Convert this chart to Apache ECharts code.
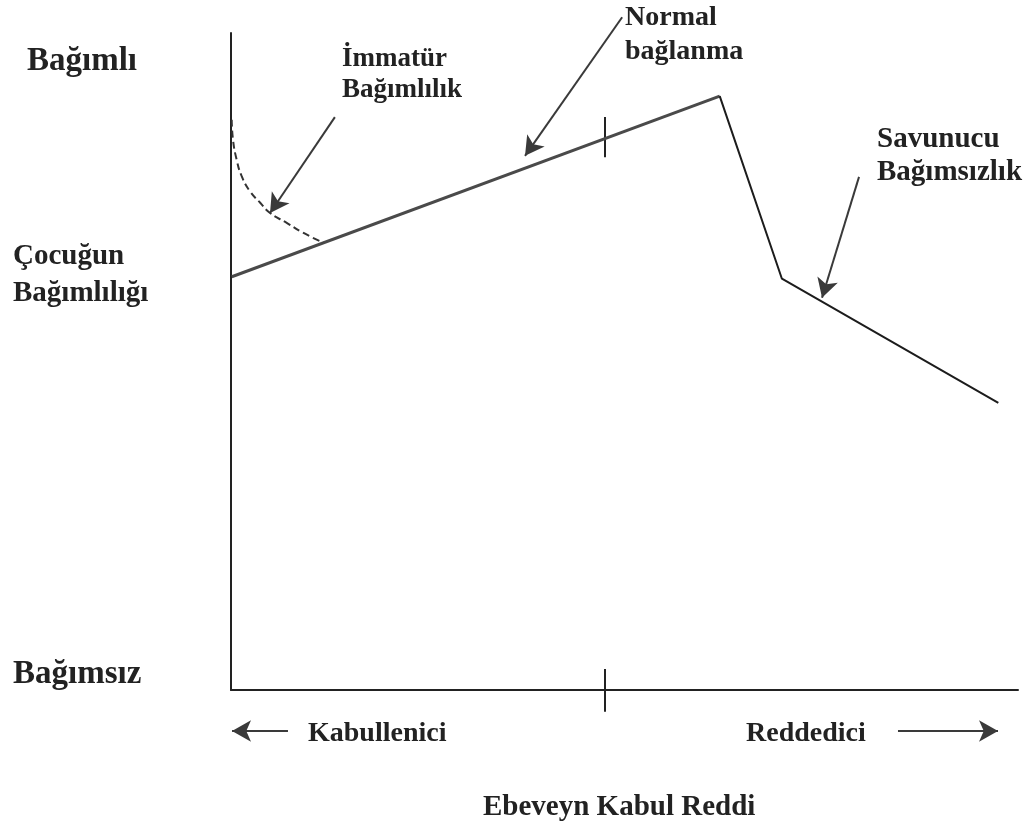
<!DOCTYPE html>
<html>
<head>
<meta charset="utf-8">
<script src="https://cdn.jsdelivr.net/npm/echarts@6/dist/echarts.min.js"></script>
<style>
html,body{margin:0;padding:0;background:#fff}
#chart{width:1030px;height:836px}
</style>
</head>
<body>
<div id="chart"></div>
<script>
// x: ebeveyn tutumu 0 (kabullenici) -> 100 (reddedici)
// y: cocugun bagimliligi 0 (bagimsiz) -> 100 (bagimli)
var normalX = [0.1, 62.1];
var normalY = [62.9, 90.4];
var savunucuX = [62.1, 70.0, 97.5];
var savunucuY = [90.4, 62.6, 43.7];
var immaturX = [0.09, 0.25, 0.72, 1.36, 2.41, 3.68, 4.96, 7.08, 9.15, 11.7];
var immaturY = [86.8, 83.8, 80.7, 78.2, 75.9, 74.2, 72.6, 71.1, 69.6, 68.1];
var midX = 47.5;
var tickOnLine = [81.1, 87.2];
var tickOnAxis = [-3.3, 3.2];
var arrowFrom = [[13.2, 87.2], [49.7, 102.4], [79.8, 78.1], [7.24, -6.24], [84.75, -6.24]];
var arrowTo = [[4.96, 72.6], [37.36, 81.3], [75.1, 59.7], [0.13, -6.24], [97.46, -6.24]];

var yLabels = ['Bağımlı', 'Çocuğun\nBağımlılığı', 'Bağımsız'];
var noteLabels = ['İmmatür\nBağımlılık', 'Normal\nbağlanma', 'Savunucu\nBağımsızlık'];
var xLabels = ['Kabullenici', 'Reddedici'];
var xTitle = 'Ebeveyn Kabul Reddi';

function zip(xs, ys) {
    var out = [];
    for (var i = 0; i < xs.length; i++) out.push([xs[i], ys[i]]);
    return out;
}

var FONT = '"Liberation Serif", "Times New Roman", serif';
function txt(s, x, y, size, lh) {
    return {
        type: 'text',
        style: {
            text: s, x: x, y: y,
            font: 'bold ' + size + 'px ' + FONT,
            fill: '#222',
            textAlign: 'left',
            textVerticalAlign: 'middle',
            lineHeight: lh || size
        }
    };
}

var arrows = [];
for (var i = 0; i < arrowFrom.length; i++) {
    arrows.push({ coords: [arrowFrom[i], arrowTo[i]] });
}

var chart = echarts.init(document.getElementById('chart'));
var option = {
    animation: false,
    backgroundColor: '#fff',
    grid: { left: 231, right: 12, top: 33, bottom: 146 },
    xAxis: {
        type: 'value', min: 0, max: 100,
        axisLine: { show: true, onZero: false, lineStyle: { color: '#222', width: 2 } },
        axisTick: { show: false }, axisLabel: { show: false }, splitLine: { show: false }
    },
    yAxis: {
        type: 'value', min: 0, max: 100,
        axisLine: { show: true, onZero: false, lineStyle: { color: '#222', width: 2 } },
        axisTick: { show: false }, axisLabel: { show: false }, splitLine: { show: false }
    },
    series: [
        {
            name: 'Normal bağlanma', type: 'line', symbol: 'none',
            data: zip(normalX, normalY),
            lineStyle: { color: '#4a4a4a', width: 3 }
        },
        {
            name: 'Savunucu Bağımsızlık', type: 'line', symbol: 'none',
            data: zip(savunucuX, savunucuY),
            lineStyle: { color: '#1c1c1c', width: 2 }
        },
        {
            name: 'İmmatür Bağımlılık', type: 'line', symbol: 'none', smooth: true,
            data: zip(immaturX, immaturY),
            lineStyle: { color: '#333', width: 2, type: [7, 4] }
        },
        {
            name: 'ticks', type: 'lines', coordinateSystem: 'cartesian2d', clip: false,
            symbol: 'none',
            data: [
                { coords: [[midX, tickOnLine[0]], [midX, tickOnLine[1]]] },
                { coords: [[midX, tickOnAxis[0]], [midX, tickOnAxis[1]]] }
            ],
            lineStyle: { color: '#222', width: 2, opacity: 1 }
        },
        {
            name: 'arrows', type: 'lines', coordinateSystem: 'cartesian2d', clip: false,
            symbol: ['none', 'arrow'], symbolSize: [[16, 19], [16, 19]],
            data: arrows,
            lineStyle: { color: '#3a3a3a', width: 2, opacity: 1 }
        }
    ],
    graphic: [
        txt(yLabels[0], 27, 61, 33),
        txt(yLabels[1], 13, 275, 29, 37),
        txt(yLabels[2], 13, 674, 33),
        txt(noteLabels[0], 342, 75, 27, 31),
        txt(noteLabels[1], 625, 35, 28, 34),
        txt(noteLabels[2], 877, 156, 29, 33),
        txt(xLabels[0], 308, 734, 28),
        txt(xLabels[1], 746, 734, 28),
        txt(xTitle, 483, 808, 29)
    ]
};
chart.setOption(option);
</script>
</body>
</html>
